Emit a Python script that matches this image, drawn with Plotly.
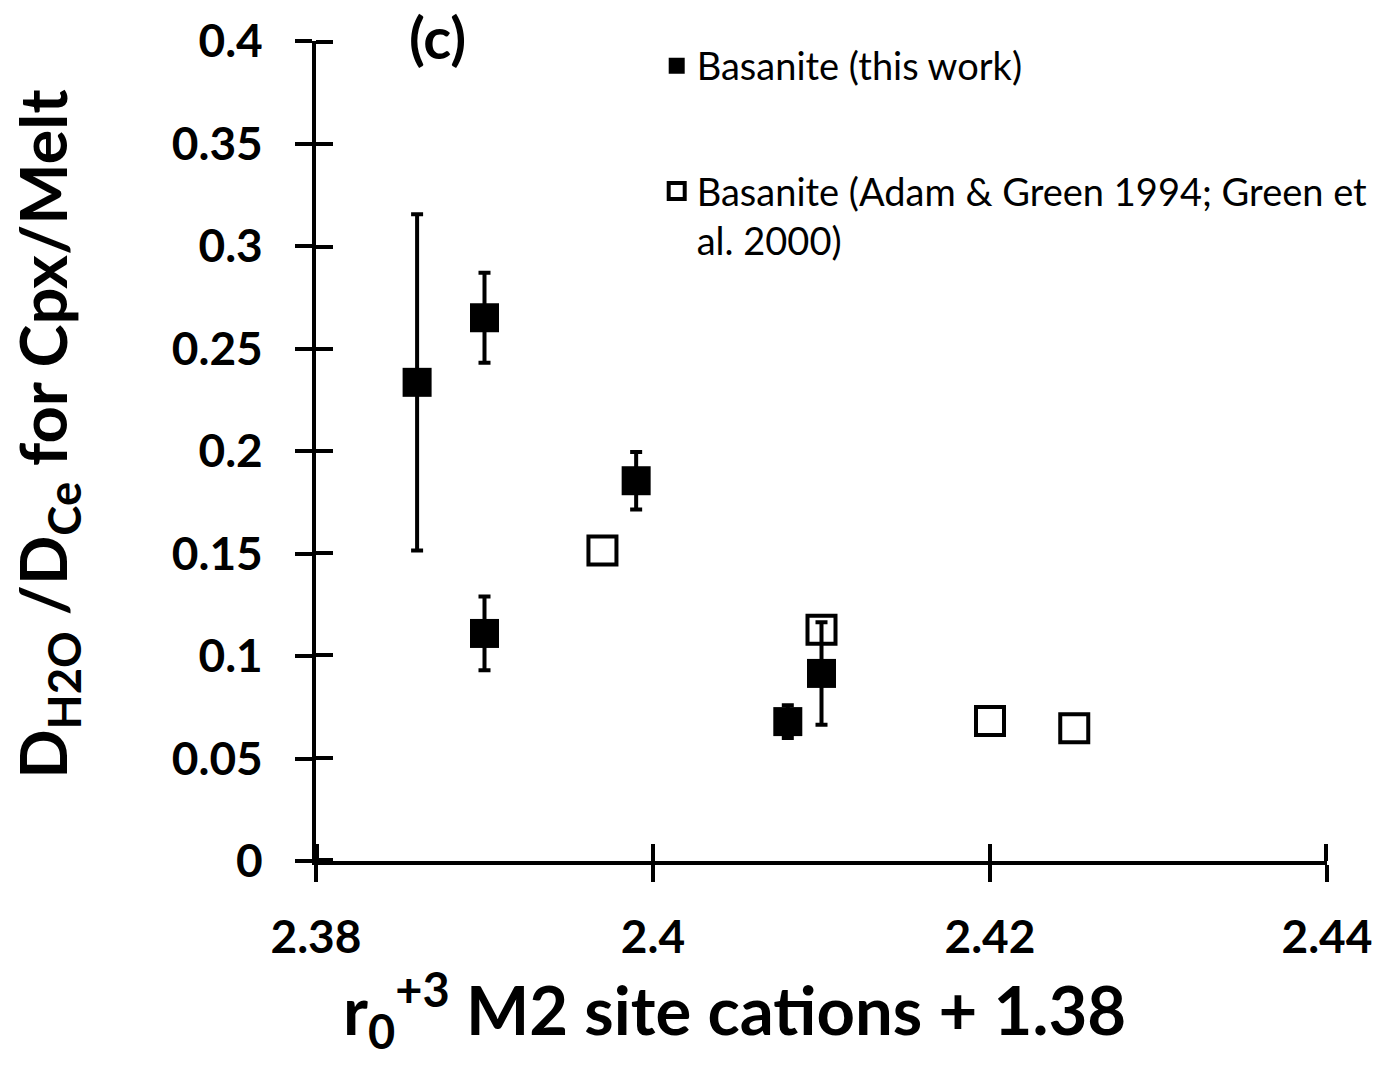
import plotly.graph_objects as go

# Basanite (this work): r0 of M2 site + 1.38, D_H2O/D_Ce ratio, 1-sigma error
this_work_x = [2.386, 2.390, 2.390, 2.399, 2.408, 2.410]
this_work_y = [0.2335, 0.2650, 0.1110, 0.1855, 0.0680, 0.0915]
this_work_err = [0.082, 0.022, 0.018, 0.014, 0.008, 0.025]

# Basanite literature data (Adam & Green 1994; Green et al. 2000)
lit_x = [2.397, 2.410, 2.420, 2.425]
lit_y = [0.1515, 0.1128, 0.0683, 0.0648]

x_ticks = [2.38, 2.40, 2.42, 2.44]
x_tick_text = ["2.38", "2.4", "2.42", "2.44"]
y_ticks = [0, 0.05, 0.10, 0.15, 0.20, 0.25, 0.30, 0.35, 0.40]
y_tick_text = ["0", "0.05", "0.1", "0.15", "0.2", "0.25", "0.3", "0.35", "0.4"]

x_range = [2.38, 2.44]
y_range = [0, 0.4]

# the overlay axes (inner half of the crossing ticks) get a hair of padding so
# that the end ticks are not dropped as "edge" ticks
x_pad = 0.00008
y_pad = 0.0006

FONT = "Lato"

fig = go.Figure()

fig.add_trace(go.Scatter(
    x=this_work_x, y=this_work_y,
    mode="markers",
    name="Basanite (this work)",
    legendgroup="a",
    marker=dict(symbol="square", size=29, color="black"),
    error_y=dict(type="data", array=this_work_err, visible=True,
                 color="black", thickness=4, width=6),
))

fig.add_trace(go.Scatter(
    x=lit_x, y=lit_y,
    mode="markers",
    name="Basanite (Adam & Green 1994; Green et<br>al. 2000)",
    legendgroup="b",
    marker=dict(symbol="square-open", size=28, color="black",
                line=dict(width=4, color="black")),
))

# empty trace that registers the overlay subplot
fig.add_trace(go.Scatter(x=[], y=[], xaxis="x2", yaxis="y2",
                         showlegend=False, hoverinfo="skip"))

axis_common = dict(showgrid=False, zeroline=False)

fig.update_layout(
    width=1389, height=1079,
    margin=dict(l=316, r=62, t=30, b=218),
    paper_bgcolor="white", plot_bgcolor="white",
    showlegend=True,
    legend=dict(
        x=0.337, y=1.008, xanchor="left", yanchor="top",
        font=dict(family=FONT, size=38, color="black"),
        traceorder="grouped", tracegroupgap=73, valign="top",
        itemsizing="trace", bgcolor="rgba(0,0,0,0)",
    ),
    xaxis=dict(
        **axis_common, range=x_range, tickvals=x_ticks, ticktext=x_tick_text,
        showline=True, linecolor="black", linewidth=4,
        ticks="outside", ticklen=17, tickwidth=4, tickcolor="black",
        tickfont=dict(family=FONT, size=46, color="black", weight="bold"),
        ticklabelstandoff=16,
    ),
    yaxis=dict(
        **axis_common, range=y_range, tickvals=y_ticks, ticktext=y_tick_text,
        showline=True, linecolor="black", linewidth=4,
        ticks="outside", ticklen=17, tickwidth=4, tickcolor="black",
        tickfont=dict(family=FONT, size=46, color="black", weight="bold"),
        ticklabelstandoff=23,
    ),
    xaxis2=dict(
        **axis_common, range=[x_range[0] - x_pad, x_range[1] + x_pad],
        tickvals=x_ticks, overlaying="x",
        anchor="y2", side="bottom", showline=False, showticklabels=False,
        ticks="inside", ticklen=17, tickwidth=4, tickcolor="black",
    ),
    yaxis2=dict(
        **axis_common, range=[y_range[0] - y_pad, y_range[1] + y_pad],
        tickvals=y_ticks, overlaying="y",
        anchor="x2", side="left", showline=False, showticklabels=False,
        ticks="inside", ticklen=17, tickwidth=4, tickcolor="black",
    ),
    annotations=[
        dict(text="(c)", x=0.12, y=1.005, xref="paper", yref="paper",
             showarrow=False, xanchor="center", yanchor="middle",
             font=dict(family=FONT, size=58, color="black", weight="bold")),
        # axis titles
        dict(text="r<sub>0</sub><sup>+3</sup> M2 site cations + 1.38",
             x=0.414, y=-0.182, xref="paper", yref="paper",
             showarrow=False, xanchor="center", yanchor="middle",
             font=dict(family=FONT, size=67, color="black", weight="bold")),
        dict(text="D<sub>H2O</sub> /D<sub>Ce</sub> for Cpx/Melt",
             x=-0.266, y=0.521, xref="paper", yref="paper", textangle=-90,
             showarrow=False, xanchor="center", yanchor="middle",
             font=dict(family=FONT, size=65, color="black", weight="bold")),
    ],
)

fig.write_html("out.html")
